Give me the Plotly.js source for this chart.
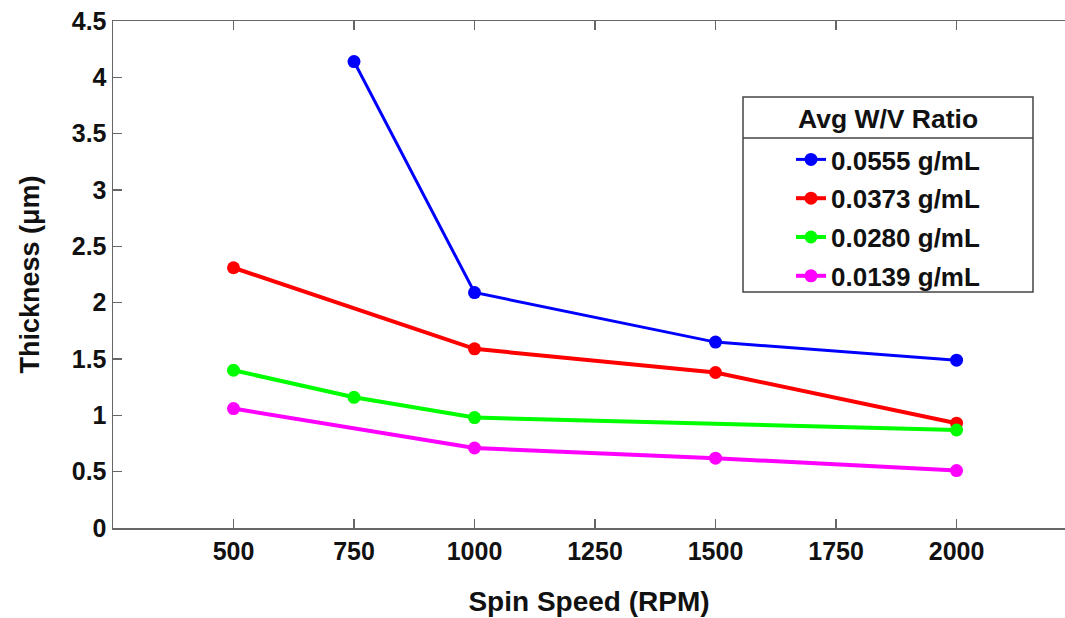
<!DOCTYPE html>
<html>
<head>
<meta charset="utf-8">
<script src="https://cdn.plot.ly/plotly-3.0.1.min.js"></script>
<style>html,body{margin:0;padding:0;background:#fff;}#chart{width:1065px;height:618px;}</style>
</head>
<body>
<div id="chart"></div>
<script>
// Data
const seriesNames = ["0.0555 g/mL", "0.0373 g/mL", "0.0280 g/mL", "0.0139 g/mL"];
const legendTitle = "Avg W/V Ratio";
const speed0555 = [750, 1000, 1500, 2000];
const thick0555 = [4.14, 2.09, 1.65, 1.49];
const speed0373 = [500, 1000, 1500, 2000];
const thick0373 = [2.31, 1.59, 1.38, 0.93];
const speed0280 = [500, 750, 1000, 2000];
const thick0280 = [1.40, 1.16, 0.98, 0.87];
const speed0139 = [500, 1000, 1500, 2000];
const thick0139 = [1.06, 0.71, 0.62, 0.51];
const xTicks = [500, 750, 1000, 1250, 1500, 1750, 2000];
const yTicks = [0, 0.5, 1, 1.5, 2, 2.5, 3, 3.5, 4, 4.5];
const yTickText = ["0", "0.5", "1", "1.5", "2", "2.5", "3", "3.5", "4", "4.5"];

const colors = ["#0000ff", "#ff0000", "#00ff00", "#ff00ff"];
const widths = [3, 4, 4, 4];
const xs = [speed0555, speed0373, speed0280, speed0139];
const ys = [thick0555, thick0373, thick0280, thick0139];

const FONT = "Liberation Sans, Arial, Helvetica, sans-serif";

const traces = seriesNames.map((name, i) => ({
  type: "scatter",
  mode: "lines+markers",
  name: name,
  x: xs[i],
  y: ys[i],
  legendgroup: "g" + i,
  line: {color: colors[i], width: widths[i]},
  marker: {color: colors[i], size: 13}
}));

// pixel helpers for paper coordinates (plot area 113..1065 x, 21..528 y)
const px = p => (p - 113) / 952;
const py = p => (528 - p) / 507;

const layout = {
  width: 1065,
  height: 618,
  margin: {l: 113, r: 0, t: 21, b: 90},
  paper_bgcolor: "#ffffff",
  plot_bgcolor: "#ffffff",
  font: {family: FONT, size: 25, color: "#111111", weight: "bold"},
  showlegend: true,
  legend: {
    x: px(791), xanchor: "left",
    y: py(136), yanchor: "top",
    bgcolor: "rgba(0,0,0,0)",
    borderwidth: 0,
    traceorder: "grouped",
    tracegroupgap: 2,
    font: {family: FONT, size: 26, color: "#111111", weight: "bold"}
  },
  annotations: [
    {xref: "paper", yref: "paper", x: px(888), y: py(119), xanchor: "center", yanchor: "middle",
     text: legendTitle, showarrow: false,
     font: {family: FONT, size: 26.5, color: "#111111", weight: "bold"}}
  ],
  xaxis: {
    range: [250, 2225],
    tickvals: xTicks,
    ticktext: xTicks.map(String),
    ticks: "inside",
    ticklen: 9,
    tickwidth: 1.5,
    tickcolor: "#666666",
    showline: true,
    linecolor: "#666666",
    linewidth: 1.5,
    mirror: "ticks",
    showgrid: false,
    zeroline: false,
    tickfont: {family: FONT, size: 25, color: "#111111", weight: "bold"},
    title: {text: "Spin Speed (RPM)", standoff: 28, font: {family: FONT, size: 28, color: "#111111", weight: "bold"}}
  },
  yaxis: {
    range: [0, 4.5],
    tickvals: yTicks,
    ticktext: yTickText,
    ticks: "inside",
    ticklen: 9,
    tickwidth: 1.5,
    tickcolor: "#666666",
    showline: true,
    linecolor: "#666666",
    linewidth: 1.5,
    mirror: false,
    showgrid: false,
    zeroline: false,
    tickfont: {family: FONT, size: 25, color: "#111111", weight: "bold"},
    title: {text: "Thickness (μm)", standoff: 24, font: {family: FONT, size: 27, color: "#111111", weight: "bold"}}
  },
  shapes: [
    {type: "rect", xref: "paper", yref: "paper", x0: px(743), x1: px(1033), y0: py(292), y1: py(97),
     line: {color: "#444444", width: 1.5}, fillcolor: "rgba(0,0,0,0)", layer: "above"},
    {type: "line", xref: "paper", yref: "paper", x0: px(743), x1: px(1033), y0: py(138), y1: py(138),
     line: {color: "#444444", width: 1.5}, layer: "above"}
  ]
};

Plotly.newPlot("chart", traces, layout, {displayModeBar: false, staticPlot: true});
</script>
</body>
</html>
